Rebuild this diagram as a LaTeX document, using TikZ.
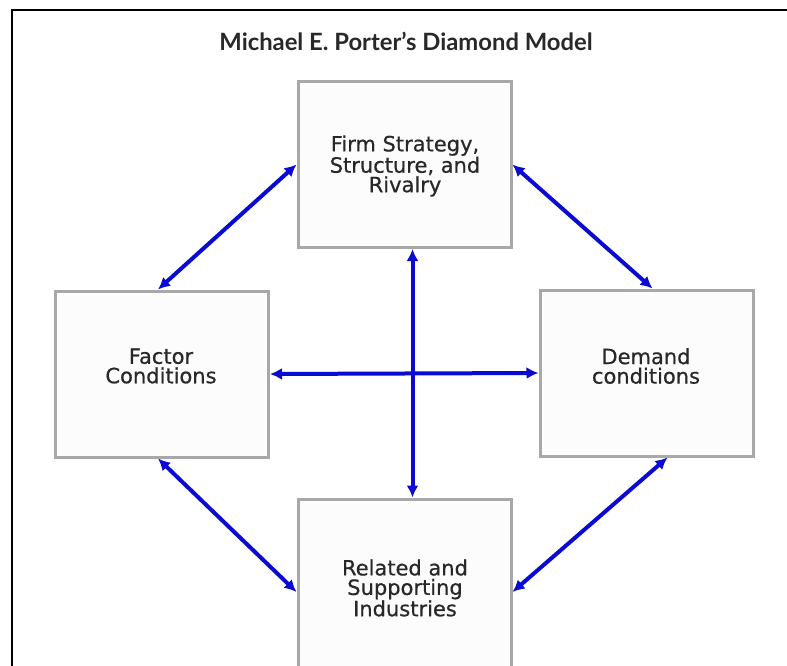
\documentclass[tikz,border=0pt]{standalone}
\usepackage{fontspec}
\setmainfont{DejaVu Sans}
\newfontfamily\cajafont{DejaVu Sans}[FakeBold=0.6]
\newfontfamily\titulofont{Lato}
\usetikzlibrary{arrows.meta}
\definecolor{grisborde}{RGB}{168,168,168}
\definecolor{gristexto}{RGB}{40,40,40}
\definecolor{azulflecha}{RGB}{10,10,210}
\tikzset{
  caja/.style={draw=grisborde, line width=3pt, fill=white!99!black,
    inner sep=0pt, minimum width=213pt, minimum height=166pt},
  texto/.style={text=gristexto, align=center, inner sep=0pt,
    font=\cajafont\fontsize{21}{19.5}\selectfont},
  enlace/.style={azulflecha, line width=4pt,
    {Latex[length=12pt,width=12pt]}-{Latex[length=12pt,width=12pt]}}
}

\begin{document}
\begin{tikzpicture}[x=1pt,y=-1pt]
	\useasboundingbox (0,0) rectangle (787,666);

	% Marco exterior
	\draw[line width=1.5pt] (12,680) -- (12,10) -- (800,10);

	% Titulo
	\node[text=gristexto, font=\titulofont\bfseries\fontsize{23.8}{25}\selectfont] (titulo) at (406,41) {Michael E. Porter’s Diamond Model};

	% Las cuatro cajas
	\node[caja] (firma) at (404.5,164.5) {};
	\node[caja] (factores) at (162,374) {};
	\node[caja] (demanda) at (646.5,373) {};
	\node[caja, minimum height=176pt] (industrias) at (404.5,587) {};

	% Textos de las cajas
	\node[texto] (firmatexto) at (405,166) {Firm Strategy,\\Structure, and\\Rivalry};
	\node[texto] (factorestexto) at (161,366) {Factor\\Conditions};
	\node[texto] (demandatexto) at (646,366) {Demand\\conditions};
	\node[texto] (industriastexto) at (405,588) {Related and\\Supporting\\Industries};

	% Flechas en cruz
	\draw[enlace] (factores.east) -- (demanda.west);
	\draw[enlace] ([xshift=8pt]firma.south) -- ([xshift=8pt]industrias.north);

	% Flechas diagonales
	\draw[enlace] ([xshift=-4pt]factores.north) -- (firma.west);
	\draw[enlace] (firma.east) -- ([xshift=6pt]demanda.north);
	\draw[enlace] ([xshift=21pt]demanda.south) -- ([yshift=-5pt]industrias.east);
	\draw[enlace] ([xshift=-4pt]factores.south) -- ([yshift=-5pt]industrias.west);
\end{tikzpicture}
\end{document}
